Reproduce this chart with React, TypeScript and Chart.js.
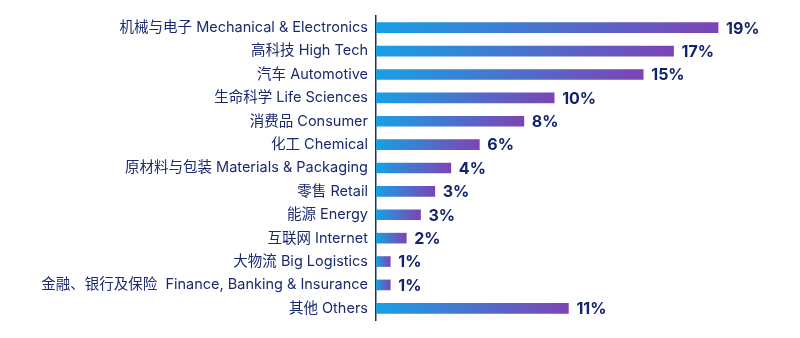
import React, { useEffect, useRef } from "react";
import { Chart, registerables } from "chart.js";

Chart.register(...registerables);

const categories = [
  "机械与电子 Mechanical & Electronics",
  "高科技 High Tech",
  "汽车 Automotive",
  "生命科学 Life Sciences",
  "消费品 Consumer",
  "化工 Chemical",
  "原材料与包装 Materials & Packaging",
  "零售 Retail",
  "能源 Energy",
  "互联网 Internet",
  "大物流 Big Logistics",
  "金融、银行及保险  Finance, Banking & Insurance",
  "其他 Others",
];

const shares = [19.2, 16.7, 15.0, 10.0, 8.3, 5.8, 4.2, 3.3, 2.5, 1.7, 0.8, 0.8, 10.8];

const shareLabels = ["19%", "17%", "15%", "10%", "8%", "6%", "4%", "3%", "3%", "2%", "1%", "1%", "11%"];

const BLUE = "#18a0e4";
const PURPLE = "#7d44b4";
const NAVY = "#1b2a6e";

const valueLabelPlugin = {
  id: "valueLabels",
  afterDatasetsDraw(chart: any) {
    const ctx = chart.ctx;
    const meta = chart.getDatasetMeta(0);
    ctx.save();
    ctx.font = "bold 16px Inter, 'Noto Sans CJK SC', sans-serif";
    ctx.fillStyle = "#13246e";
    ctx.textAlign = "left";
    ctx.textBaseline = "middle";
    meta.data.forEach((bar: any, i: number) => {
      ctx.fillText(shareLabels[i], bar.x + 8, bar.y + 1);
    });
    ctx.restore();
  },
};

export default function App() {
  const canvasRef = useRef<HTMLCanvasElement | null>(null);

  useEffect(() => {
    if (!canvasRef.current) return;
    const chart = new Chart(canvasRef.current, {
      type: "bar",
      data: {
        labels: categories,
        datasets: [
          {
            data: shares,
            barThickness: 10,
            borderWidth: 0,
            backgroundColor: (c: any) => {
              const chartObj = c.chart;
              const xs = chartObj.scales && chartObj.scales.x;
              if (!xs || c.raw === undefined) return BLUE;
              const x0 = xs.getPixelForValue(0);
              const x1 = xs.getPixelForValue(c.raw);
              if (!isFinite(x0) || !isFinite(x1) || x1 <= x0) return BLUE;
              const g = chartObj.ctx.createLinearGradient(x0, 0, x1, 0);
              g.addColorStop(0, BLUE);
              g.addColorStop(1, PURPLE);
              return g;
            },
          },
        ],
      },
      options: {
        indexAxis: "y",
        animation: false,
        responsive: true,
        maintainAspectRatio: false,
        layout: { padding: { top: 8, bottom: 10, left: 0, right: 0 } },
        plugins: {
          legend: { display: false },
          tooltip: { enabled: false },
        },
        scales: {
          x: {
            display: false,
            min: 0,
            max: 23.35,
          },
          y: {
            afterFit: (scale: any) => {
              scale.width = 368;
              scale.paddingTop = 0;
              scale.paddingBottom = 0;
            },
            grid: { display: false, drawTicks: false },
            border: { display: true, color: NAVY, width: 1.5 },
            ticks: {
              color: NAVY,
              padding: 8,
              font: { family: "Inter, 'Noto Sans CJK SC', sans-serif", size: 14.5 },
            },
          },
        },
      },
      plugins: [valueLabelPlugin],
    } as any);
    return () => chart.destroy();
  }, []);

  return (
    <div style={{ width: 784, height: 322, position: "relative" }}>
      <canvas ref={canvasRef} />
    </div>
  );
}
